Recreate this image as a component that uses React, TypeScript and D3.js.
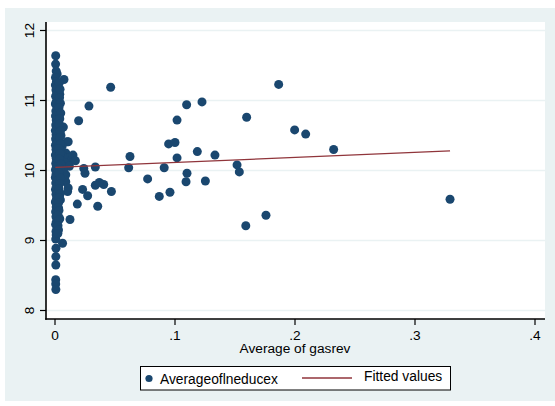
import React from "react";
import * as d3 from "d3";

// Average of gasrev (x) and Averageoflneducex (y), one entry per observation
const gasrev: number[] = [
  0.0006, 0.0005, 0.001, 0.0018, 0.0004, 0.0075, 0.0012, 0.0003, 0.0022, 0.0008,
  0.0015, 0.004, 0.0005, 0.0025, 0.001, 0.0003, 0.002, 0.003, 0.0007, 0.0015,
  0.0004, 0.0035, 0.001, 0.0022, 0.0006, 0.0042, 0.0013, 0.0003, 0.0028, 0.0009,
  0.0018, 0.0005, 0.0032, 0.01, 0.011, 0.0012, 0.0004, 0.0025, 0.0008, 0.0045,
  0.0015, 0.009, 0.006, 0.0003, 0.003, 0.0075, 0.011, 0.001, 0.014, 0.005,
  0.002, 0.0085, 0.0006, 0.0035, 0.0065, 0.0012, 0.0045, 0.0004, 0.0025, 0.0055,
  0.0009, 0.009, 0.0018, 0.0003, 0.0038, 0.009, 0.0012, 0.0006, 0.0028, 0.011,
  0.0015, 0.0004, 0.0105, 0.0022, 0.0008, 0.0035, 0.0013, 0.0045, 0.0003, 0.002,
  0.001, 0.003, 0.0005, 0.0016, 0.0008, 0.0125, 0.004, 0.0012, 0.0005, 0.0018,
  0.0008, 0.001, 0.0006, 0.0063, 0.0008, 0.0007, 0.0007, 0.0006, 0.0006, 0.0007,
  0.015, 0.017, 0.012, 0.007, 0.008, 0.006, 0.005, 0.007, 0.003,
  0.0035, 0.0042, 0.0038, 0.0045, 0.0033, 0.0048, 0.004, 0.0036, 0.0044, 0.0039,
  0.0047, 0.0034, 0.0043, 0.0037, 0.005, 0.0041, 0.0035, 0.0046, 0.0038, 0.0032,
  0.0044, 0.0036, 0.003, 0.0028, 0.0033, 0.0026, 0.003, 0.0025, 0.0029, 0.0024,
  0.0197, 0.0283, 0.0464, 0.0336, 0.024, 0.025, 0.047, 0.0406, 0.0369, 0.0336,
  0.023, 0.0272, 0.0356, 0.0186, 0.0625, 0.0614, 0.0772, 0.0869, 0.0958, 0.091,
  0.0947, 0.1, 0.1017, 0.1017, 0.1097, 0.1225, 0.1186, 0.1333, 0.11, 0.1092,
  0.1253, 0.1517, 0.1536, 0.1597, 0.159, 0.1758, 0.1864, 0.1997, 0.2089, 0.2322,
  0.3292,
];

const lneducex: number[] = [
  11.64, 11.52, 11.42, 11.38, 11.33, 11.3, 11.27, 11.22, 11.19, 11.15,
  11.11, 11.09, 11.06, 11.02, 10.98, 10.95, 10.92, 10.88, 10.85, 10.81,
  10.78, 10.75, 10.72, 10.68, 10.65, 10.63, 10.6, 10.57, 10.54, 10.51,
  10.48, 10.45, 10.42, 10.41, 10.41, 10.39, 10.36, 10.33, 10.3, 10.28,
  10.26, 10.25, 10.23, 10.22, 10.2, 10.19, 10.18, 10.17, 10.15, 10.14,
  10.12, 10.11, 10.1, 10.08, 10.06, 10.05, 10.03, 10.01, 9.99, 9.97,
  9.95, 9.94, 9.92, 9.9, 9.88, 9.84, 9.85, 9.82, 9.79, 9.75,
  9.76, 9.73, 9.7, 9.69, 9.66, 9.63, 9.6, 9.58, 9.55, 9.52,
  9.48, 9.45, 9.41, 9.38, 9.34, 9.3, 9.31, 9.27, 9.23, 9.18,
  9.13, 9.08, 9.02, 8.96, 8.89, 8.77, 8.65, 8.44, 8.38, 8.3,
  10.22, 10.14, 10.06, 10.0, 9.9, 10.35, 10.5, 10.62, 10.7,
  11.25, 11.16, 11.04, 10.96, 10.9, 10.82, 10.74, 10.66, 10.56, 10.47,
  10.38, 10.31, 10.24, 10.16, 10.09, 10.02, 9.96, 9.89, 9.81, 9.74,
  9.67, 9.61, 9.54, 9.47, 9.43, 9.36, 9.29, 9.21, 9.15, 9.1,
  10.71, 10.92, 11.19, 10.05, 10.03, 9.96, 9.7, 9.8, 9.83, 9.79,
  9.73, 9.64, 9.49, 9.52, 10.2, 10.04, 9.88, 9.63, 9.69, 10.04,
  10.38, 10.4, 10.72, 10.18, 10.94, 10.98, 10.27, 10.22, 9.96, 9.84,
  9.85, 10.08, 9.98, 10.76, 9.21, 9.36, 11.23, 10.58, 10.52, 10.3,
  9.59,
];

// Linear fit: Fitted values = intercept + slope * gasrev
const fitIntercept = 10.043;
const fitSlope = 0.717;

const xTicks: number[] = [0, 0.1, 0.2, 0.3, 0.4];
const xTickLabels: string[] = ["0", ".1", ".2", ".3", ".4"];
const yTicks: number[] = [8, 9, 10, 11, 12];
const yTickLabels: string[] = ["8", "9", "10", "11", "12"];

const legendLabels: string[] = ["Averageoflneducex", "Fitted values"];
const xTitle = "Average of gasrev";

const W = 555;
const H = 406;
const FONT = "'Liberation Sans', Arial, sans-serif";
const NAVY = "#1a476f";
const MAROON = "#90353b";
const BG = "#eaf2f3";

export default function App() {
  const plotLeft = 46;
  const plotRight = 545;
  const plotTop = 22;
  const plotBottom = 319;

  const x = d3.scaleLinear().domain([0, 0.4]).range([55, 535]);
  const y = d3.scaleLinear().domain([8, 12]).range([310.5, 30.5]);

  const points = gasrev.map((g, i) => ({ g, v: lneducex[i] }));
  const xMin = d3.min(gasrev) as number;
  const xMax = d3.max(gasrev) as number;
  const fitLine = d3
    .line<number>()
    .x((d) => x(d))
    .y((d) => y(fitIntercept + fitSlope * d));

  return (
    <svg
      width={W}
      height={H}
      style={{ position: "absolute", left: 0, top: 0 }}
      fontFamily={FONT}
    >
      <rect x={0} y={0} width={W} height={H} fill="#ffffff" />
      <rect x={5} y={8} width={W - 5} height={393} fill={BG} />
      <rect
        x={plotLeft}
        y={plotTop}
        width={plotRight - plotLeft}
        height={plotBottom - plotTop}
        fill="#ffffff"
      />
      {/* horizontal grid */}
      {yTicks.map((t) => (
        <line
          key={"g" + t}
          x1={plotLeft}
          x2={plotRight}
          y1={y(t)}
          y2={y(t)}
          stroke={BG}
          strokeWidth={1.6}
        />
      ))}

      {/* scatter */}
      {points.map((p, i) => (
        <circle key={i} cx={x(p.g)} cy={y(p.v)} r={4.5} fill={NAVY} />
      ))}

      {/* fitted line */}
      <path
        d={fitLine([xMin, xMax]) || ""}
        fill="none"
        stroke={MAROON}
        strokeWidth={1.3}
      />

      {/* y axis */}
      <line x1={plotLeft} x2={plotLeft} y1={plotTop} y2={plotBottom + 0.8} stroke="#000" strokeWidth={1.6} />
      {yTicks.map((t, i) => (
        <g key={"y" + t}>
          <line x1={40} x2={plotLeft} y1={y(t)} y2={y(t)} stroke="#000" strokeWidth={1.2} />
          <text
            x={34}
            y={y(t)}
            transform={`rotate(-90, 34, ${y(t)})`}
            textAnchor="middle"
            fontSize={13.7}
            fill="#000"
          >
            {yTickLabels[i]}
          </text>
        </g>
      ))}

      {/* x axis */}
      <line x1={plotLeft - 0.8} x2={plotRight} y1={plotBottom} y2={plotBottom} stroke="#000" strokeWidth={1.6} />
      {xTicks.map((t, i) => (
        <g key={"x" + t}>
          <line x1={x(t)} x2={x(t)} y1={plotBottom} y2={325} stroke="#000" strokeWidth={1.2} />
          <text x={x(t)} y={339.5} textAnchor="middle" fontSize={13.7} fill="#000">
            {xTickLabels[i]}
          </text>
        </g>
      ))}
      <text x={295} y={353} textAnchor="middle" fontSize={13.7} fill="#000">
        {xTitle}
      </text>

      {/* legend */}
      <rect x={140.5} y={366.5} width={310} height={23.5} fill="#ffffff" stroke="#000" strokeWidth={1} />
      <circle cx={149} cy={378.5} r={3.6} fill={NAVY} />
      <text x={160} y={383.8} fontSize={13.8} fill="#000">
        {legendLabels[0]}
      </text>
      <line x1={302} x2={352} y1={378} y2={378} stroke={MAROON} strokeWidth={1.3} />
      <text x={364} y={381.2} fontSize={13.8} fill="#000">
        {legendLabels[1]}
      </text>
    </svg>
  );
}
